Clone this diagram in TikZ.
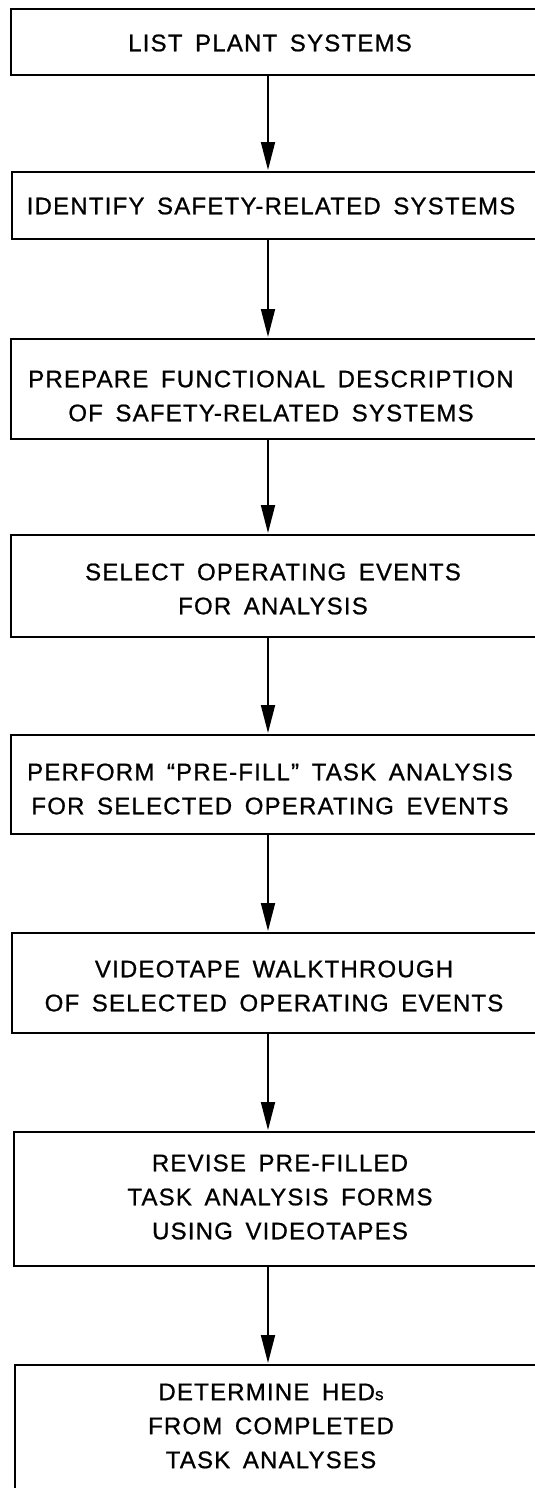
\documentclass[tikz,border=0pt]{standalone}
\usepackage{fontspec}
\newfontfamily\labfont[LetterSpace=5,WordSpace=1.6,FakeBold=0.8]{Liberation Sans}
\usetikzlibrary{arrows.meta}
\tikzset{
  box/.style={draw=black, line width=1.9pt, rectangle, anchor=north west, minimum width=600pt, inner sep=0pt},
  lbl/.style={font=\labfont\fontsize{24}{34}\selectfont, align=center, inner sep=0pt, text=black},
  arr/.style={draw=black, line width=1.8pt, -{Triangle[length=28pt,width=14pt]}, shorten >=1pt}
}
\begin{document}
\begin{tikzpicture}[x=1pt,y=-1pt]
\useasboundingbox (0,0) rectangle (535,1488);
\clip (0,0) rectangle (535,1488);
\fill[white] (0,0) rectangle (535,1488);
\coordinate (ax) at (268,0);
\node[box, minimum height=66pt] (b1) at (10,8) {};
\node[box, minimum height=67pt] (b2) at (11,171) {};
\node[box, minimum height=100pt] (b3) at (10,338) {};
\node[box, minimum height=102pt] (b4) at (10,534) {};
\node[box, minimum height=99pt] (b5) at (10,734) {};
\node[box, minimum height=100pt] (b6) at (11,932) {};
\node[box, minimum height=134pt] (b7) at (13,1131) {};
\node[box, minimum height=200pt] (b8) at (14,1364) {};

\node[lbl] (t1) at (270,43) {LIST PLANT SYSTEMS};
\node[lbl] (t2) at (271,206) {IDENTIFY SAFETY-RELATED SYSTEMS};
\node[lbl] (t3) at (271,396) {PREPARE FUNCTIONAL DESCRIPTION\\OF SAFETY-RELATED SYSTEMS};
\node[lbl] (t4) at (273,589) {SELECT OPERATING EVENTS\\FOR ANALYSIS};
\node[lbl] (t5) at (270,789) {PERFORM “PRE-FILL” TASK ANALYSIS\\FOR SELECTED OPERATING EVENTS};
\node[lbl] (t6) at (274,986) {VIDEOTAPE WALKTHROUGH\\OF SELECTED OPERATING EVENTS};
\node[lbl] (t7) at (280,1197) {REVISE PRE-FILLED\\TASK ANALYSIS FORMS\\USING VIDEOTAPES};
\node[lbl] (t8) at (271,1426) {DETERMINE HED{\fontsize{17}{34}\selectfont s}\\FROM COMPLETED\\TASK ANALYSES};

\draw[arr] (b1.south -| ax) -- (b2.north -| ax);
\draw[arr] (b2.south -| ax) -- (b3.north -| ax);
\draw[arr] (b3.south -| ax) -- (b4.north -| ax);
\draw[arr] (b4.south -| ax) -- (b5.north -| ax);
\draw[arr] (b5.south -| ax) -- (b6.north -| ax);
\draw[arr] (b6.south -| ax) -- (b7.north -| ax);
\draw[arr] (b7.south -| ax) -- (b8.north -| ax);
\end{tikzpicture}
\end{document}
